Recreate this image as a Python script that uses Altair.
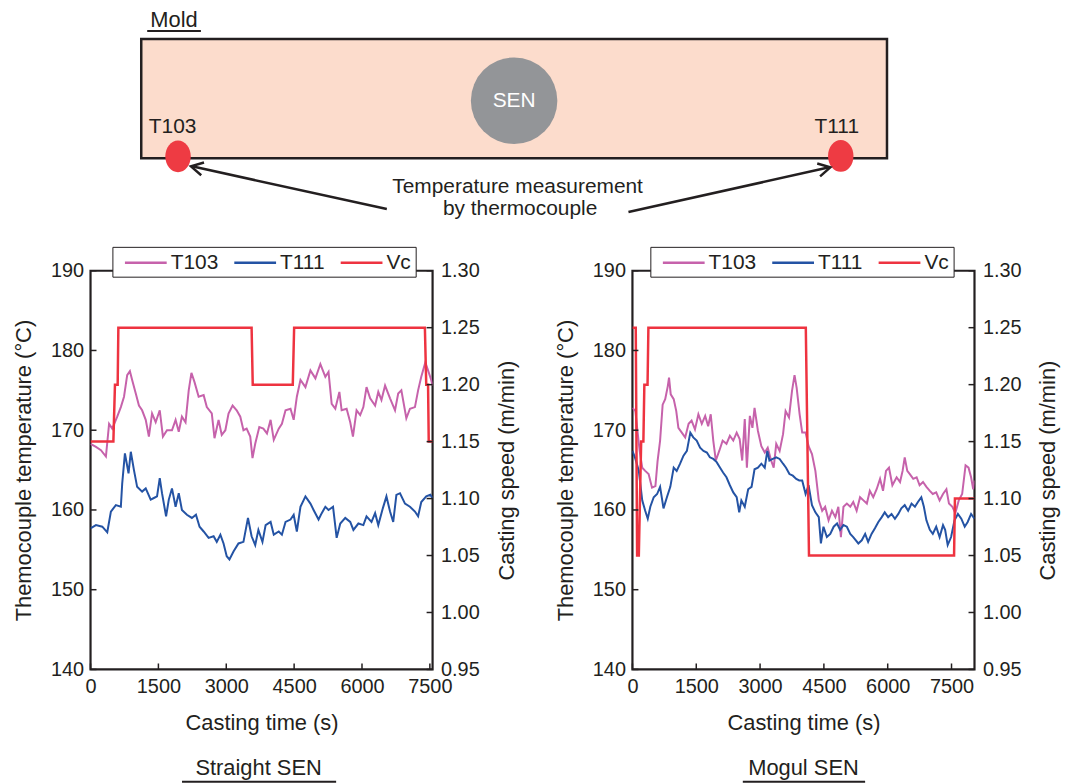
import altair as alt
import pandas as pd

# ---------------- data ----------------
series_names = ["T103", "T111", "Vc"]

straight_t103_time = [0, 120, 230, 340, 410, 480, 590, 670, 740, 810, 870, 920, 1000, 1070, 1140, 1220, 1290, 1360, 1440, 1530,
                      1600, 1690, 1800, 1880, 1950, 2020, 2100, 2170, 2230, 2300, 2390, 2500, 2570, 2680, 2740, 2830, 2900, 2980,
                      3050, 3140, 3230, 3310, 3380, 3450, 3530, 3580, 3640, 3730, 3820, 3900, 3980, 4050, 4160, 4230, 4310, 4420,
                      4490, 4560, 4640, 4750, 4860, 4970, 5080, 5190, 5260, 5330, 5410, 5500, 5550, 5660, 5740, 5800, 5880, 5960,
                      6030, 6100, 6180, 6290, 6360, 6430, 6510, 6620, 6730, 6800, 6870, 6980, 7060, 7170, 7240, 7310, 7400, 7460,
                      7530, 7560]
straight_t103_temp = [168.3, 167.9, 167.5, 166.7, 170.8, 170.2, 171.7, 172.9, 174.2, 176.9, 177.4, 176.3, 174.6, 173.1, 172.5, 171.3,
                      169.2, 172.1, 171.0, 172.5, 169.2, 170.0, 170.0, 171.3, 169.8, 171.7, 171.0, 175.0, 177.2, 176.0, 174.2, 174.4,
                      172.9, 172.1, 169.0, 171.3, 169.4, 170.0, 172.1, 173.1, 172.5, 171.7, 170.0, 170.2, 169.2, 166.5, 168.3, 170.4,
                      170.2, 169.6, 171.3, 168.8, 170.2, 170.8, 172.5, 172.7, 171.3, 174.2, 176.3, 175.4, 177.5, 176.5, 178.3, 176.7,
                      177.3, 173.3, 172.7, 174.8, 172.5, 172.7, 171.0, 169.2, 172.5, 171.9, 172.9, 175.4, 174.0, 173.1, 174.8, 173.8,
                      175.6, 174.0, 172.5, 174.6, 175.0, 171.5, 172.7, 172.9, 175.0, 176.7, 178.5, 177.5, 176.3, 175.6]
straight_t111_time = [0, 120, 260, 370, 450, 560, 670, 700, 760, 840, 890, 960, 1030, 1140, 1220, 1330, 1400, 1470, 1530, 1580,
                      1670, 1730, 1800, 1880, 1950, 2020, 2130, 2240, 2330, 2410, 2500, 2610, 2720, 2790, 2870, 2940, 3010, 3070,
                      3160, 3270, 3380, 3480, 3560, 3640, 3710, 3800, 3870, 3980, 4050, 4160, 4230, 4310, 4420, 4490, 4560, 4640,
                      4750, 4860, 4930, 5040, 5110, 5190, 5260, 5360, 5440, 5520, 5630, 5740, 5810, 5920, 6030, 6100, 6210, 6290,
                      6360, 6460, 6540, 6620, 6690, 6760, 6840, 6950, 7060, 7170, 7240, 7310, 7420, 7510, 7560]
straight_t111_temp = [157.7, 158.1, 157.9, 157.2, 159.8, 160.6, 160.4, 163.3, 167.1, 164.6, 167.3, 165.0, 162.9, 162.3, 162.7, 161.3,
                      161.5, 161.7, 164.0, 162.1, 159.2, 161.3, 162.7, 160.4, 162.1, 160.0, 159.4, 159.0, 159.4, 157.9, 157.3, 156.5,
                      156.7, 156.0, 156.9, 155.8, 154.2, 153.8, 154.8, 155.8, 156.0, 159.0, 156.7, 155.6, 157.5, 156.0, 158.1, 158.5,
                      156.9, 157.3, 156.9, 158.5, 158.8, 159.4, 157.3, 160.4, 161.7, 160.8, 160.0, 158.8, 159.6, 160.4, 160.0, 160.4,
                      156.5, 158.3, 159.0, 158.5, 157.5, 158.3, 158.1, 159.2, 158.5, 159.6, 158.1, 160.2, 161.7, 159.8, 158.5, 161.9,
                      162.1, 160.8, 160.4, 159.8, 159.2, 161.0, 161.7, 161.9, 161.5]
straight_vc_time = [0, 505, 540, 600, 615, 3560, 3585, 4470, 4500, 7390, 7420, 7460, 7475, 7560]
straight_vc_speed = [1.15, 1.15, 1.20, 1.20, 1.25, 1.25, 1.20, 1.20, 1.25, 1.25, 1.20, 1.20, 1.15, 1.15]

mogul_t103_time = [0, 70, 110, 170, 230, 300, 380, 460, 540, 590, 650, 710, 770, 830, 860, 900, 970, 1030, 1080, 1160, 1240,
                   1320, 1390, 1470, 1550, 1630, 1710, 1780, 1840, 1900, 1960, 2040, 2120, 2210, 2290, 2370, 2450, 2520, 2580,
                   2640, 2690, 2760, 2820, 2870, 2950, 3030, 3110, 3180, 3260, 3320, 3380, 3460, 3540, 3600, 3680, 3750, 3810,
                   3860, 3930, 3990, 4070, 4140, 4220, 4300, 4380, 4460, 4530, 4610, 4690, 4770, 4840, 4900, 4960, 5040, 5120,
                   5190, 5270, 5350, 5430, 5510, 5580, 5660, 5740, 5820, 5890, 5960, 6030, 6110, 6210, 6290, 6350, 6400, 6460,
                   6520, 6600, 6680, 6750, 6830, 6910, 6990, 7060, 7140, 7220, 7300, 7380, 7440, 7520, 7590, 7670, 7750, 7830,
                   7900, 7960, 8010, 8040]
mogul_t103_temp = [172.8, 172.4, 170.3, 167.4, 165.3, 164.9, 164.5, 162.8, 163.0, 166.1, 168.7, 173.2, 173.9, 175.5, 176.6, 174.5,
                   173.9, 172.4, 170.3, 169.7, 169.1, 170.8, 171.2, 170.1, 172.0, 170.8, 171.8, 170.5, 172.0, 168.7, 166.2, 167.4,
                   168.7, 168.3, 169.3, 168.7, 169.7, 168.9, 166.2, 171.4, 165.3, 171.8, 170.3, 172.8, 169.9, 168.0, 167.2, 167.8,
                   166.2, 165.3, 168.3, 167.4, 169.5, 172.4, 171.6, 174.9, 176.9, 175.3, 172.0, 169.7, 169.7, 168.0, 167.0, 164.9,
                   161.2, 159.9, 160.4, 158.7, 159.9, 159.1, 160.4, 156.6, 160.4, 160.8, 160.4, 161.0, 159.9, 161.6, 161.2, 160.8,
                   162.4, 161.6, 162.6, 163.9, 162.4, 164.9, 165.3, 163.1, 164.1, 163.5, 164.9, 166.6, 164.9, 164.5, 163.9, 164.1,
                   163.1, 163.5, 162.9, 162.4, 162.0, 162.2, 161.2, 162.0, 162.6, 160.8, 160.4, 159.6, 161.2, 162.0, 165.6, 165.3,
                   164.1, 162.6, 163.7]
mogul_t111_time = [0, 70, 150, 230, 300, 360, 420, 500, 580, 650, 730, 810, 890, 970, 1040, 1120, 1200, 1280, 1360, 1430, 1510,
                   1590, 1670, 1750, 1820, 1900, 1980, 2060, 2130, 2210, 2290, 2370, 2450, 2510, 2560, 2640, 2720, 2800, 2870,
                   2950, 3030, 3110, 3170, 3220, 3300, 3380, 3460, 3540, 3610, 3690, 3770, 3850, 3920, 3990, 4070, 4140, 4220,
                   4300, 4380, 4430, 4490, 4570, 4650, 4730, 4810, 4880, 4960, 5040, 5120, 5190, 5310, 5390, 5470, 5540, 5620,
                   5700, 5780, 5860, 5930, 6010, 6090, 6170, 6250, 6320, 6400, 6480, 6560, 6640, 6710, 6790, 6850, 6910, 6990,
                   7060, 7140, 7220, 7300, 7350, 7410, 7490, 7570, 7650, 7730, 7810, 7880, 7960, 8040]
mogul_t111_temp = [167.4, 166.4, 164.9, 161.2, 159.9, 158.9, 160.4, 161.6, 162.0, 162.9, 160.2, 161.6, 162.9, 165.3, 164.9, 165.8,
                   166.8, 167.4, 169.7, 169.1, 168.7, 167.8, 167.4, 167.2, 166.6, 166.4, 166.0, 165.3, 164.7, 164.1, 163.1, 162.2,
                   161.6, 159.7, 161.2, 160.4, 162.6, 162.9, 165.1, 165.3, 165.8, 165.3, 167.4, 166.2, 166.4, 166.6, 166.4, 165.8,
                   165.3, 164.5, 164.3, 163.9, 163.7, 163.7, 162.0, 163.1, 160.6, 159.7, 159.1, 155.8, 157.9, 156.6, 157.0, 157.9,
                   158.3, 157.5, 158.1, 157.9, 157.0, 156.6, 155.8, 156.2, 157.0, 156.0, 157.0, 157.7, 158.5, 159.1, 159.7, 159.1,
                   159.5, 158.9, 159.5, 160.2, 160.6, 159.9, 160.8, 160.4, 161.0, 161.6, 160.4, 158.7, 157.5, 157.0, 157.9, 156.6,
                   158.1, 157.5, 155.6, 156.6, 158.7, 159.5, 158.9, 157.9, 158.5, 159.5, 158.9]
mogul_vc_time = [0, 78, 110, 150, 205, 257, 280, 355, 375, 4075, 4150, 7560, 7580, 8040]
mogul_vc_speed = [1.25, 1.25, 1.05, 1.05, 1.15, 1.15, 1.20, 1.20, 1.25, 1.25, 1.05, 1.05, 1.10, 1.10]

temp_ticks = [140, 150, 160, 170, 180, 190]
speed_ticks = [0.95, 1.00, 1.05, 1.10, 1.15, 1.20, 1.25, 1.30]
time_ticks = [0, 1500, 3000, 4500, 6000, 7500]
panel_names = ["Straight SEN", "Mogul SEN"]

# diagram texts
mold_text = ["Mold"]
sen_text = ["SEN"]
thermo_text = ["T103", "T111"]
note_text = ["Temperature measurement", "by thermocouple"]

# ---------------- styles ----------------
FONT = "Liberation Sans"
INK = "#231f20"
series_colors = ["#c662ab", "#2453a4", "#ee3340"]
PEACH = "#fcdccc"
GRAY = "#939598"
RED = "#ee3b43"
H = 401
W = 344
LABEL_SIZE = 20
TITLE_SIZE = 22


def legend_spec(lx):
    return alt.Legend(orient="none", legendX=lx, legendY=-24, direction="horizontal", title=None,
                      fillColor="white", strokeColor=INK, padding=4,
                      symbolType="M -2,0 L 2,0", symbolSize=441, symbolStrokeWidth=2.5,
                      symbolOffset=17.6, labelOffset=13, columnPadding=7,
                      labelFont=FONT, labelFontSize=21, labelColor=INK,
                      labelExpr="datum.label == 'Vc' ? 'Vc\u00a0' : datum.label")


def make_panel(t103_t, t103_v, t111_t, t111_v, vc_t, vc_v, xmax, name, text_x, ul_x, ul_x2, lx):
    temp_df = pd.DataFrame({
        "time": t103_t + t111_t,
        "temp": t103_v + t111_v,
        "series": ["T103"] * len(t103_t) + ["T111"] * len(t111_t),
    })
    vc_df = pd.DataFrame({"time": vc_t, "speed": vc_v, "series": ["Vc"] * len(vc_t)})
    xs = alt.Scale(domain=[0, xmax], nice=False, zero=False)
    ts = alt.Scale(domain=[140, 190], nice=False, zero=False)
    ss = alt.Scale(domain=[0.95, 1.30], nice=False, zero=False)
    cs = alt.Scale(domain=series_names, range=series_colors)

    x_axis = alt.Axis(values=time_ticks, title="Casting time (s)", ticks=False, domain=False, grid=False,
                      labelFont=FONT, labelFontSize=LABEL_SIZE, labelColor=INK, labelPadding=7, labelFlush=False,
                      format="d",
                      titleFont=FONT, titleFontSize=TITLE_SIZE, titleColor=INK, titleFontWeight="normal",
                      titlePadding=16)
    yl_axis = alt.Axis(orient="left", values=temp_ticks, title="Themocouple temperature (°C)", ticks=False,
                       domain=False, grid=False, labelFont=FONT, labelFontSize=LABEL_SIZE, labelColor=INK,
                       labelPadding=7, format="d", titleFont=FONT, titleFontSize=TITLE_SIZE, titleColor=INK,
                       titleFontWeight="normal", titlePadding=15)
    yr_axis = alt.Axis(orient="right", values=speed_ticks, title="Casting speed (m/min)", ticks=False,
                       domain=False, grid=False, labelFont=FONT, labelFontSize=LABEL_SIZE, labelColor=INK,
                       labelPadding=8, format=".2f", titleFont=FONT, titleFontSize=TITLE_SIZE, titleColor=INK,
                       titleFontWeight="normal", titlePadding=17, titleAngle=270, titleBaseline="top")

    temp_lines = alt.Chart(temp_df).mark_line(strokeWidth=2, clip=True).encode(
        x=alt.X("time:Q", scale=xs, axis=x_axis),
        y=alt.Y("temp:Q", scale=ts, axis=yl_axis),
        color=alt.Color("series:N", scale=cs, legend=legend_spec(lx)),
    )
    vc_line = alt.Chart(vc_df).mark_line(strokeWidth=2.5, clip=True).encode(
        x=alt.X("time:Q", scale=xs, axis=x_axis),
        y=alt.Y("speed:Q", scale=ss, axis=yr_axis),
        color=alt.Color("series:N", scale=cs, legend=legend_spec(lx)),
    )
    left_ticks = alt.Chart(pd.DataFrame({"temp": temp_ticks})).mark_rule(color=INK, strokeWidth=1.5).encode(
        y=alt.Y("temp:Q", scale=ts, axis=None), x=alt.value(0), x2=alt.value(6))
    bottom_ticks = alt.Chart(pd.DataFrame({"time": time_ticks})).mark_rule(color=INK, strokeWidth=1.5).encode(
        x=alt.X("time:Q", scale=xs, axis=x_axis), y=alt.value(H - 6), y2=alt.value(H))
    right_ticks = alt.Chart(pd.DataFrame({"speed": speed_ticks})).mark_rule(color=INK, strokeWidth=1.5).encode(
        y=alt.Y("speed:Q", scale=ss, axis=None), x=alt.value(W - 6), x2=alt.value(W))
    name_text = alt.Chart(pd.DataFrame({"label": [name]})).mark_text(
        font=FONT, fontSize=22, color=INK, align="center", baseline="middle").encode(
        text="label:N", x=alt.value(text_x), y=alt.value(500))
    name_line = alt.Chart(pd.DataFrame({"label": [name]})).mark_rule(color=INK, strokeWidth=2).encode(
        x=alt.value(ul_x), x2=alt.value(ul_x2), y=alt.value(514))

    return alt.layer(temp_lines, vc_line, left_ticks, bottom_ticks, right_ticks, name_text, name_line).resolve_scale(
        y="independent").properties(width=W, height=H)


left = make_panel(straight_t103_time, straight_t103_temp, straight_t111_time, straight_t111_temp,
                  straight_vc_time, straight_vc_speed, 7560, panel_names[0], 169, 92, 247, 22)
right = make_panel(mogul_t103_time, mogul_t103_temp, mogul_t111_time, mogul_t111_temp,
                   mogul_vc_time, mogul_vc_speed, 8040, panel_names[1], 172, 111, 234, 18)

bottom = alt.hconcat(left, right, spacing=201, bounds="flush").resolve_scale(color="independent")

# ---------------- mold diagram ----------------
dxs = alt.Scale(domain=[89, 978], nice=False, zero=False)
dys = alt.Scale(domain=[230, 8], nice=False, zero=False)


def DX(f):
    return alt.X(f, scale=dxs, axis=None)


def DY(f):
    return alt.Y(f, scale=dys, axis=None)


box = alt.Chart(pd.DataFrame({"x": [140], "x2": [890], "y": [39], "y2": [159]})).mark_rect(
    fill=PEACH, stroke=INK, strokeWidth=2.5).encode(x=DX("x:Q"), x2="x2:Q", y=DY("y:Q"), y2="y2:Q")
sen_circle = alt.Chart(pd.DataFrame({"x": [515], "y": [101]})).mark_point(
    shape="circle", filled=True, color=GRAY, size=7569, opacity=1).encode(x=DX("x:Q"), y=DY("y:Q"))
sen_label = alt.Chart(pd.DataFrame({"x": [515], "y": [101], "t": sen_text})).mark_text(
    font=FONT, fontSize=21, color="white", align="center", baseline="middle").encode(
    x=DX("x:Q"), y=DY("y:Q"), text="t:N")
ellipse_path = ("M 0.8,0 C 0.8,0.5523 0.4418,1 0,1 C -0.4418,1 -0.8,0.5523 -0.8,0 "
                "C -0.8,-0.5523 -0.4418,-1 0,-1 C 0.4418,-1 0.8,-0.5523 0.8,0 Z")
thermo = alt.Chart(pd.DataFrame({"x": [177, 843.5], "y": [157, 156.5]})).mark_point(
    shape=ellipse_path, filled=True, color=RED, size=1024, opacity=1).encode(x=DX("x:Q"), y=DY("y:Q"))
thermo_lbl = alt.Chart(pd.DataFrame({"x": [171.5, 839.5], "y": [127, 127], "t": thermo_text})).mark_text(
    font=FONT, fontSize=21, color=INK, align="center", baseline="middle").encode(
    x=DX("x:Q"), y=DY("y:Q"), text="t:N")
mold_lbl = alt.Chart(pd.DataFrame({"x": [173], "y": [20], "t": mold_text})).mark_text(
    font=FONT, fontSize=22, color=INK, align="center", baseline="middle").encode(
    x=DX("x:Q"), y=DY("y:Q"), text="t:N")
mold_ul = alt.Chart(pd.DataFrame({"x": [146], "x2": [200], "y": [31]})).mark_rule(
    color=INK, strokeWidth=2).encode(x=DX("x:Q"), x2="x2:Q", y=DY("y:Q"))
note = alt.Chart(pd.DataFrame({"x": [518.5, 521], "y": [188, 210], "t": note_text})).mark_text(
    font=FONT, fontSize=21, color=INK, align="center", baseline="middle").encode(
    x=DX("x:Q"), y=DY("y:Q"), text="t:N")
arrows = alt.Chart(pd.DataFrame({"x": [387, 630], "y": [210, 213], "x2": [191, 832], "y2": [167, 168]})).mark_rule(
    color=INK, strokeWidth=2.5).encode(x=DX("x:Q"), y=DY("y:Q"), x2="x2:Q", y2="y2:Q")
heads = alt.Chart(pd.DataFrame({"x": [190, 833], "y": [167, 168], "ang": [192.3, 347.4]})).mark_point(
    shape="M -1,-0.55 L 0,0 L -1,0.55", filled=False, color=INK, strokeWidth=2.5, size=576, opacity=1).encode(
    x=DX("x:Q"), y=DY("y:Q"), angle=alt.Angle("ang:Q", scale=None))

diagram = alt.layer(box, sen_circle, sen_label, thermo, thermo_lbl, mold_lbl, mold_ul, arrows, heads, note).properties(
    width=889, height=222, view=alt.ViewBackground(stroke="transparent"))

chart = alt.vconcat(diagram, bottom, spacing=42, bounds="flush").properties(
    padding={"left": 3, "top": -4, "right": 0, "bottom": 0},
    background="white",
).configure(font=FONT).configure_view(stroke=INK, strokeWidth=2.2)

chart.save("out.html", embed_options={"renderer": "svg", "actions": False})
